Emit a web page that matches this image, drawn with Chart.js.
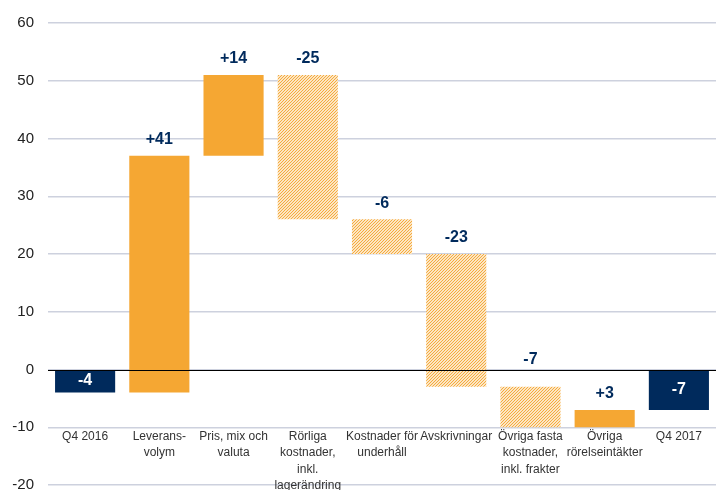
<!DOCTYPE html>
<html>
<head>
<meta charset="utf-8">
<script src="https://cdn.jsdelivr.net/npm/chart.js@4"></script>
<style>
  html, body { margin: 0; padding: 0; background: #fff; }
  #wrap { width: 716px; height: 490px; }
</style>
</head>
<body>
<div id="wrap"><canvas id="chart" width="716" height="490"></canvas></div>
<script>
// Category labels (multi-line)
const categories = [
  ['Q4 2016'],
  ['Leverans-', 'volym'],
  ['Pris, mix och', 'valuta'],
  ['Rörliga', 'kostnader,', 'inkl.', 'lagerändring'],
  ['Kostnader för', 'underhåll'],
  ['Avskrivningar'],
  ['Övriga fasta', 'kostnader,', 'inkl. frakter'],
  ['Övriga', 'rörelseintäkter'],
  ['Q4 2017']
];

// Change per step and the kind of bar
const changes = [-4, 41, 14, -25, -6, -23, -7, 3, -7];
const kinds = ['total', 'step', 'step', 'step', 'step', 'step', 'step', 'step', 'total'];

const yTicks = [-20, -10, 0, 10, 20, 30, 40, 50, 60];
const categoryAxisAt = -10;

// Build floating ranges from the changes
const ranges = [];
let running = 0;
changes.forEach((c, i) => {
  if (kinds[i] === 'total') {
    ranges.push([0, c]);
    running = c;
  } else {
    ranges.push([running, running + c]);
    running += c;
  }
});

const ORANGE = '#F5A733';
const NAVY = '#002A5C';

// Diagonal hatch for negative steps
function makeHatch() {
  const c = document.createElement('canvas');
  c.width = 3; c.height = 3;
  const g = c.getContext('2d');
  g.fillStyle = '#fff';
  g.fillRect(0, 0, 3, 3);
  g.strokeStyle = ORANGE;
  g.lineWidth = 1.1;
  g.beginPath();
  g.moveTo(0, 3); g.lineTo(3, 0);
  g.moveTo(-1, 1); g.lineTo(1, -1);
  g.moveTo(2, 4); g.lineTo(4, 2);
  g.stroke();
  return g.createPattern(c, 'repeat');
}
const hatch = makeHatch();

const colors = changes.map((c, i) => kinds[i] === 'total' ? NAVY : (c < 0 ? hatch : ORANGE));

// Value labels, zero line and category labels
const labelPlugin = {
  id: 'valueLabels',
  afterDatasetsDraw(chart) {
    const ctx = chart.ctx;
    const y = chart.scales.y;
    const x = chart.scales.x;
    const zeroY = y.getPixelForValue(0);
    const meta = chart.getDatasetMeta(0);
    ctx.save();

    // zero line
    ctx.strokeStyle = '#000';
    ctx.lineWidth = 1;
    ctx.beginPath();
    ctx.moveTo(chart.chartArea.left, Math.round(zeroY) + 0.5);
    ctx.lineTo(chart.chartArea.right, Math.round(zeroY) + 0.5);
    ctx.stroke();

    ctx.font = 'bold 16px "Liberation Sans", Arial, sans-serif';
    ctx.textAlign = 'center';
    ctx.textBaseline = 'middle';
    meta.data.forEach((bar, i) => {
      const c = changes[i];
      const text = (c > 0 ? '+' : '') + c;
      const top = y.getPixelForValue(Math.max(ranges[i][0], ranges[i][1]));
      const bottom = y.getPixelForValue(Math.min(ranges[i][0], ranges[i][1]));
      if (kinds[i] === 'total') {
        ctx.fillStyle = '#fff';
        ctx.fillText(text, bar.x, (top + bottom) / 2);
      } else {
        let ly = top - 16;
        if (Math.abs(ly - zeroY) < 10) ly = zeroY - 10;
        ctx.fillStyle = NAVY;
        ctx.fillText(text, bar.x, ly);
      }
    });

    // category labels below the -10 line
    const baseY = y.getPixelForValue(categoryAxisAt) + 3;
    ctx.font = '12px "Liberation Sans", Arial, sans-serif';
    ctx.fillStyle = '#333';
    ctx.textBaseline = 'top';
    categories.forEach((lines, i) => {
      const cx = x.getPixelForValue(i);
      lines.forEach((line, j) => ctx.fillText(line, cx, baseY + j * 16.5));
    });
    ctx.restore();
  }
};

const ctx = document.getElementById('chart').getContext('2d');
new Chart(ctx, {
  type: 'bar',
  data: {
    labels: categories.map(l => l.join(' ')),
    datasets: [{
      data: ranges,
      backgroundColor: colors,
      borderWidth: 0,
      barPercentage: 0.81,
      categoryPercentage: 1
    }]
  },
  options: {
    responsive: false,
    animation: false,
    layout: { padding: { top: 23, bottom: 5, left: 0, right: 0 } },
    plugins: { legend: { display: false }, tooltip: { enabled: false } },
    scales: {
      x: {
        grid: { display: false, drawTicks: false },
        border: { display: false },
        ticks: { display: false }
      },
      y: {
        min: -20,
        max: 60,
        afterBuildTicks(scale) { scale.ticks = yTicks.map(v => ({ value: v })); },
        afterFit(scale) {
          scale.width = 48;
          scale.paddingTop = 0;
          scale.paddingBottom = 0;
        },
        grid: { color: '#CDD1DE', lineWidth: 1.5, drawTicks: false },
        border: { display: false },
        ticks: {
          padding: 14,
          color: '#222',
          font: { family: '"Liberation Sans", Arial, sans-serif', size: 15 }
        }
      }
    }
  },
  plugins: [labelPlugin]
});
</script>
</body>
</html>
